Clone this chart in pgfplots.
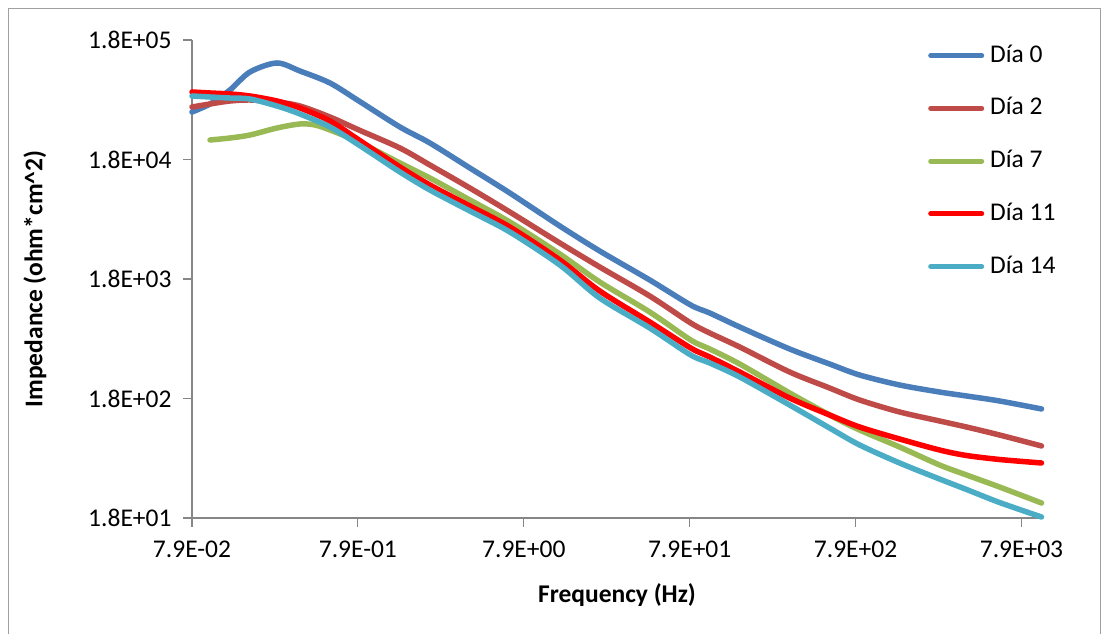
\documentclass[border=0pt]{standalone}
\usepackage{fontspec}
\setmainfont{Carlito}
\usepackage{pgfplots}
\pgfplotsset{compat=1.18}
\definecolor{c0}{HTML}{4A7EBB}
\definecolor{c2}{HTML}{BE4B48}
\definecolor{c7}{HTML}{98B954}
\definecolor{c11}{HTML}{FF0000}
\definecolor{c14}{HTML}{4BACC6}
\definecolor{axgray}{HTML}{868686}
\definecolor{framegray}{HTML}{A0A0A0}
\newcommand{\bigfont}{\fontsize{25.5}{30}\selectfont}
\begin{document}
\begin{tikzpicture}[x=1pt,y=1pt,font=\bigfont]
\useasboundingbox (0,0) rectangle (1109,634);
\draw[framegray, line width=1pt] (8.5,-5) -- (8.5,625.5) -- (1100.5,625.5) -- (1100.5,-5);
\begin{axis}[
  at={(192pt,116pt)}, anchor=south west,
  scale only axis, width=850pt, height=478pt,
  xmode=log, ymode=log,
  xmin=0.079, xmax=10500, ymin=18, ymax=180000,
  axis x line*=bottom, axis y line*=left,
  axis line style={draw=axgray, line width=1.2pt, -},
  xtick={0.079,0.79,7.9,79,790,7900},
  xticklabels={7.9E-02,7.9E-01,7.9E+00,7.9E+01,7.9E+02,7.9E+03},
  ytick={18,180,1800,18000,180000},
  yticklabels={1.8E+01,1.8E+02,1.8E+03,1.8E+04,1.8E+05},
  minor tick num=0, xminorticks=false, yminorticks=false,
  tick align=outside, major tick length=9pt,
  tick style={draw=axgray, line width=1.2pt},
  tick label style={font=\bigfont},
  xticklabel style={yshift=-10pt},
  yticklabel style={xshift=-8pt},
  label style={font=\bigfont\bfseries},
  xlabel={Frequency (Hz)},
  ylabel={Impedance (ohm*cm\textasciicircum 2)},
  xlabel style={at={(axis description cs:0.5,-0.161)}, anchor=center},
  ylabel style={at={(axis description cs:-0.1847,0.5)}, anchor=center},
  clip=false,
  legend cell align=left,
  legend style={draw=none, fill=none, inner sep=0pt, font=\bigfont, at={(axis description cs:0.8659,0.9916)}, anchor=north west,
    row sep=29.7pt, column sep=6pt, nodes={inner sep=0pt, text height=18pt, text depth=5pt}},
  legend image code/.code={\draw[#1, line width=5pt, line cap=round] (0pt,0pt) -- (51pt,0pt);},
  every axis plot/.append style={line width=5.5pt, smooth, line cap=round, line join=round},
]
\addplot[c0] coordinates {
(0.079,44950) (0.1014,52440) (0.1338,68680) (0.1766,97160) (0.2569,115600) (0.3534,99050)
(0.5358,78620) (0.801,55570) (1.415,33680) (2.145,24740) (3.736,15280) (6.506,9439)
(13.02,4997) (22.66,3087) (45.35,1766) (80.1,1090) (104.3,934.9) (158.1,713.9)
(316.3,467.3) (550.6,349.9) (835.1,283.1) (1454.6,233.5) (2533,203.9) (3685,188.9)
(5823,171.6) (10428,147.1)};
\addlegendentry{Día 0}
\addplot[c2] coordinates {
(0.079,49500) (0.1014,52440) (0.1338,55570) (0.1766,56650) (0.2569,54500) (0.3534,50450)
(0.5358,40820) (0.801,31790) (1.415,22460) (2.145,16190) (3.736,10390) (6.506,6545)
(13.02,3602) (22.66,2268) (45.35,1297) (80.1,771.1) (104.3,635.9) (158.1,485.6)
(316.3,299.9) (550.6,220.3) (835.1,174.9) (1454.6,138.8) (2533,116.7) (3685,103.9)
(5823,89.10) (10428,72.09)};
\addlegendentry{Día 2}
\addplot[c7] coordinates {
(0.1014,26210) (0.1338,27230) (0.1766,28850) (0.2569,33030) (0.3534,35680) (0.4351,34990)
(0.5358,31790) (0.801,25220) (1.415,16830) (2.145,12600) (3.736,8249) (6.506,5398)
(13.02,2914) (22.66,1699) (45.35,952.9) (80.1,555.7) (104.3,467.3) (158.1,349.9)
(316.3,200.2) (550.6,131.0) (835.1,98.08) (1454.6,70.70) (2533,49.99) (3685,41.22)
(5823,32.71) (10428,24.03)};
\addlegendentry{Día 7}
\addplot[c11] coordinates {
(0.079,66100) (0.1014,64840) (0.1338,63600) (0.1766,61200) (0.2569,55570) (0.3534,48560)
(0.5358,37800) (0.801,26210) (1.415,15580) (2.145,11010) (3.736,7350) (6.506,4901)
(13.02,2596) (22.66,1428) (45.35,786.2) (80.1,476.3) (104.3,400.5) (158.1,299.9)
(316.3,181.7) (550.6,131.0) (835.1,103.9) (1454.6,82.49) (2533,66.73) (3685,60.01)
(5823,55.57) (10428,51.95)};
\addlegendentry{Día 11}
\addplot[c14] coordinates {
(0.079,61200) (0.1014,60010) (0.1338,58860) (0.1766,57740) (0.2569,50450) (0.3534,43260)
(0.5358,33680) (0.801,23800) (1.415,14150) (2.145,10000) (3.736,6673) (6.506,4453)
(13.02,2358) (22.66,1248) (45.35,700.2) (80.1,416.2) (104.3,356.8) (158.1,272.3)
(316.3,158.8) (550.6,101.9) (835.1,73.49) (1454.6,51.95) (2533,38.16) (3685,31.17)
(5823,24.27) (10428,18.35)};
\addlegendentry{Día 14}
\end{axis}
\end{tikzpicture}
\end{document}
